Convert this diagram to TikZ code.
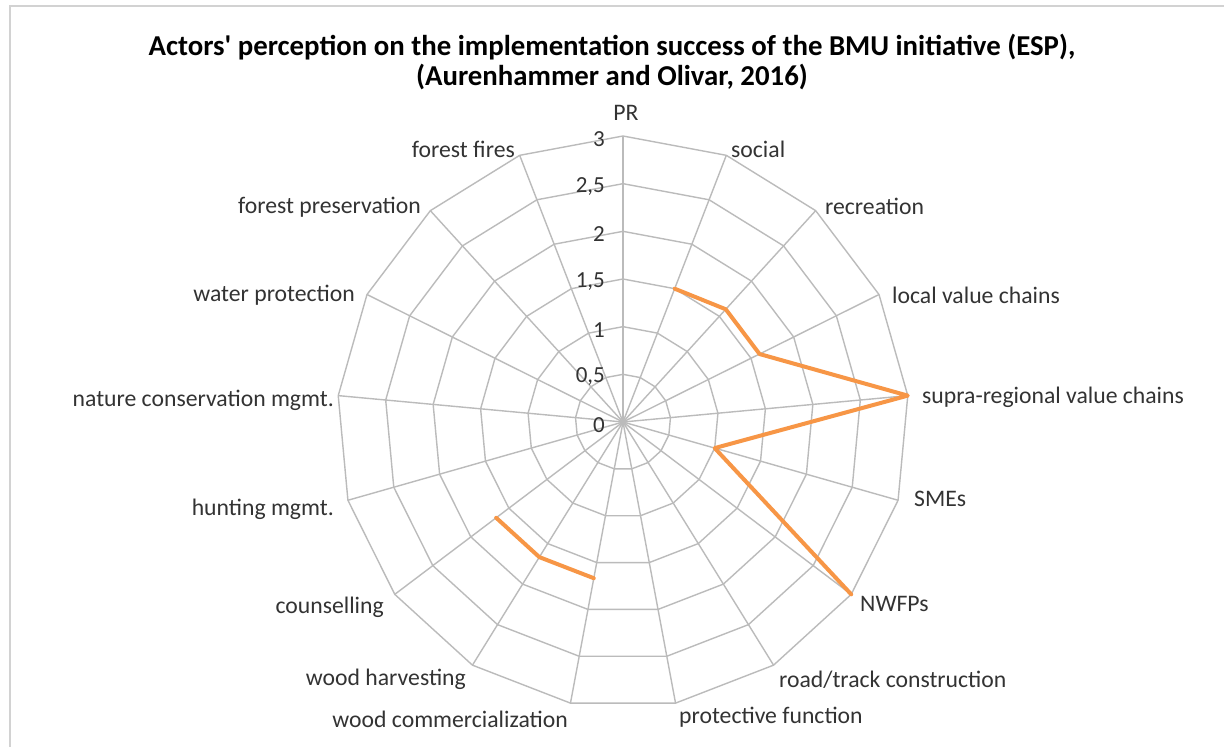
\documentclass[tikz,border=0pt]{standalone}
\usepackage{fontspec}
\setmainfont{Carlito}
\usetikzlibrary{calc}
\definecolor{gridgray}{HTML}{BBBBBB}
\definecolor{seriesorange}{HTML}{F79646}
\definecolor{labelgray}{HTML}{333333}
\definecolor{bordergray}{HTML}{D2D2D2}
\tikzset{
  gridline/.style={draw=gridgray, line width=1.4pt},
  seriesline/.style={draw=seriesorange, line width=4pt, line join=round, line cap=round},
  catlabel/.style={font=\fontsize{23.7}{28}\selectfont, text=labelgray, inner sep=0pt},
  ticklabel/.style={font=\fontsize{23}{28}\selectfont, text=labelgray, inner sep=0pt, anchor=east},
  charttitle/.style={font=\bfseries\fontsize{28.8}{29.5}\selectfont, text=black, align=center, inner sep=0pt}
}
\begin{document}
\begin{tikzpicture}[x=1pt,y=-1pt]
\useasboundingbox (0,0) rectangle (1224,747);
\fill[white] (0,0) rectangle (1224,747);
\draw[bordergray, line width=2pt] (10,747) -- (10,6) -- (1224,6);

\node[charttitle] (title) at (612,62) {Actors\textquotesingle{} perception on the implementation success of the BMU initiative (ESP),\\(Aurenhammer and Olivar, 2016)};

\begin{scope}[shift={(623,422)}]
  \coordinate (C) at (0,0);
  % rings
  \foreach \k in {1,...,6} {
    \pgfmathsetmacro{\rr}{\k*286/6}
    \draw[gridline] (-90:\rr) \foreach \i in {1,...,16} { -- ({\i*360/17-90}:\rr) } -- cycle;
  }
  % spokes and vertices
  \foreach \i in {0,...,16} {
    \coordinate (v\i) at ({\i*360/17-90}:286);
    \draw[gridline] (C) -- (v\i);
  }
  % data points (1 unit = 286/3)
  \coordinate (p1) at ({1*360/17-90}:{1.5*286/3});
  \coordinate (p2) at ({2*360/17-90}:{1.6*286/3});
  \coordinate (p3) at ({3*360/17-90}:{1.6*286/3});
  \coordinate (p4) at ({4*360/17-90}:{3*286/3});
  \coordinate (p5) at ({5*360/17-90}:{1.0*286/3});
  \coordinate (p6) at ({6*360/17-90}:{3*286/3});
  \coordinate (p9) at ({9*360/17-90}:{1.667*286/3});
  \coordinate (p10) at ({10*360/17-90}:{1.667*286/3});
  \coordinate (p11) at ({11*360/17-90}:{1.667*286/3});
\end{scope}

% tick labels
\node[ticklabel] (t0) at (605,425) {0};
\node[ticklabel] (t05) at (605,377) {0,5};
\node[ticklabel] (t1) at (605,330) {1};
\node[ticklabel] (t15) at (605,282) {1,5};
\node[ticklabel] (t2) at (605,234) {2};
\node[ticklabel] (t25) at (605,187) {2,5};
\node[ticklabel] (t3) at (605,139) {3};

% series
\draw[seriesline] (p1) -- (p2) -- (p3) -- (p4) -- (p5) -- (p6);
\draw[seriesline] (p11) -- (p10) -- (p9);

% category labels
\node[catlabel] (lPR) at (626,113) {PR};
\node[catlabel, anchor=west] (lsoc) at (731,149) {social};
\node[catlabel, anchor=west] (lrec) at (825,206) {recreation};
\node[catlabel, anchor=west] (lloc) at (892,295) {local value chains};
\node[catlabel, anchor=west] (lsup) at (922,397) {supra-regional value chains};
\node[catlabel, anchor=west] (lsme) at (914,499) {SMEs};
\node[catlabel, anchor=west] (lnwfp) at (860,604) {NWFPs};
\node[catlabel, anchor=west] (lroad) at (779,680) {road/track construction};
\node[catlabel, anchor=west] (lprot) at (679,717) {protective function};
\node[catlabel, anchor=east] (lwcom) at (568,719) {wood commercialization};
\node[catlabel, anchor=east] (lwharv) at (466,679) {wood harvesting};
\node[catlabel, anchor=east] (lcoun) at (384,607) {counselling};
\node[catlabel, anchor=east] (lhunt) at (334,509) {hunting mgmt.};
\node[catlabel, anchor=east] (lnat) at (334,400) {nature conservation mgmt.};
\node[catlabel, anchor=east] (lwat) at (355,295) {water protection};
\node[catlabel, anchor=east] (lpres) at (421,207) {forest preservation};
\node[catlabel, anchor=east] (lfire) at (515,149) {forest fires};
\end{tikzpicture}
\end{document}
